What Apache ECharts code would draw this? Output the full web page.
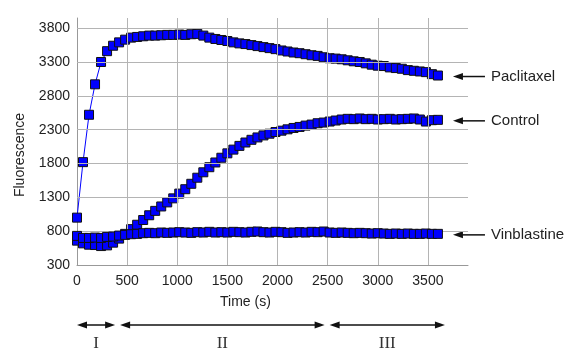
<!DOCTYPE html>
<html>
<head>
<meta charset="utf-8">
<script src="https://cdn.jsdelivr.net/npm/echarts@6/dist/echarts.min.js"></script>
<style>
  html, body { margin: 0; padding: 0; background: #fff; }
  #main { width: 582px; height: 360px; }
</style>
</head>
<body>
<div id="main"></div>
<script>
// time points (s)
const time = [0, 60, 120, 180, 240, 300, 360, 420, 480, 540, 600, 660, 720, 780, 840, 900, 960, 1020, 1080, 1140,
  1200, 1260, 1320, 1380, 1440, 1500, 1560, 1620, 1680, 1740, 1800, 1860, 1920, 1980, 2040, 2100, 2160, 2220, 2280, 2340,
  2400, 2460, 2520, 2580, 2640, 2700, 2760, 2820, 2880, 2940, 3000, 3060, 3120, 3180, 3240, 3300, 3360, 3420, 3480, 3540, 3600];

const paclitaxel = [1000, 1820, 2520, 2970, 3300, 3460, 3540, 3590, 3630, 3660, 3670, 3680, 3690, 3690, 3695, 3700, 3700, 3705, 3700, 3710,
  3715, 3690, 3660, 3640, 3625, 3610, 3590, 3575, 3565, 3550, 3535, 3520, 3505, 3490, 3470, 3455, 3440, 3430, 3415, 3400,
  3390, 3370, 3355, 3350, 3340, 3325, 3310, 3300, 3280, 3260, 3245, 3240, 3220, 3210, 3200, 3180, 3170, 3160, 3150, 3120, 3100];

const control = [660, 620, 600, 595, 580, 590, 630, 690, 760, 830, 895, 965, 1035, 1100, 1165, 1225, 1285, 1355, 1420, 1500,
  1590, 1670, 1745, 1815, 1885, 1950, 2005, 2060, 2110, 2150, 2185, 2215, 2240, 2265, 2285, 2305, 2325, 2340, 2360, 2375,
  2395, 2405, 2420, 2435, 2450, 2460, 2455, 2465, 2455, 2460, 2450, 2455, 2460, 2450, 2455, 2460, 2465, 2450, 2420, 2440, 2445];

const vinblastine = [730, 700, 700, 705, 700, 715, 720, 735, 745, 755, 760, 770, 775, 770, 780, 775, 780, 785, 780, 775,
  785, 780, 790, 780, 785, 780, 790, 785, 780, 790, 795, 785, 780, 790, 785, 775, 780, 785, 780, 790,
  785, 795, 780, 775, 780, 775, 770, 775, 770, 765, 770, 765, 760, 765, 760, 765, 760, 760, 765, 760, 760];

const xTicks = [0, 500, 1000, 1500, 2000, 2500, 3000, 3500];
const yTicks = [300, 800, 1300, 1800, 2300, 2800, 3300, 3800];

// phases shown under the axis
const phases = [
  { name: 'I', from: 0, to: 380 },
  { name: 'II', from: 430, to: 2470 },
  { name: 'III', from: 2520, to: 3670 }
];

const seriesList = [
  { name: 'Paclitaxel', values: paclitaxel },
  { name: 'Control', values: control },
  { name: 'Vinblastine', values: vinblastine }
];

const chart = echarts.init(document.getElementById('main'));

const dataSeries = seriesList.map(function (s, k) {
  return {
    name: s.name,
    type: 'line',
    z: 3 + k,
    data: time.map(function (t, i) { return [t, s.values[i]]; }),
    symbol: 'rect',
    symbolSize: 9,
    itemStyle: { color: '#0000ff', borderColor: '#111', borderWidth: 1 },
    lineStyle: { color: '#0000ff', width: 1 }
  };
});

const gridLineStyle = { color: '#b4b4b4', width: 1, type: 'solid' };
const plain = function (v) { return String(v); };
const sans = '"Liberation Sans", Arial, sans-serif';

const option = {
  animation: false,
  grid: { left: 77, top: 18, right: 114, bottom: 95 },
  xAxis: {
    type: 'value',
    min: 0,
    max: 3900,
    axisLine: { show: true, lineStyle: { color: '#999', width: 1 } },
    axisTick: { show: false },
    splitLine: { show: false },
    axisLabel: {
      customValues: xTicks,
      formatter: plain,
      color: '#222',
      fontFamily: sans,
      fontSize: 14,
      margin: 9
    }
  },
  yAxis: {
    type: 'value',
    min: 300,
    max: 3950,
    axisLine: { show: true, lineStyle: { color: '#999', width: 1 } },
    axisTick: { show: false },
    splitLine: { show: false },
    axisLabel: {
      customValues: yTicks,
      formatter: plain,
      color: '#222',
      fontFamily: sans,
      fontSize: 14,
      margin: 7
    }
  },
  series: [{
    name: 'grid',
    type: 'line',
    z: 1,
    data: [],
    silent: true,
    markLine: {
      silent: true,
      symbol: 'none',
      label: { show: false },
      lineStyle: gridLineStyle,
      data: xTicks.slice(1).map(function (v) { return { xAxis: v }; })
        .concat(yTicks.slice(1).map(function (v) { return { yAxis: v }; }))
    }
  }].concat(dataSeries)
};

chart.setOption(option);

// annotations placed through the chart's own scales
function px(x, y) {
  return chart.convertToPixel({ gridIndex: 0 }, [x, y]);
}

function head(tipX, y, dir) {
  // dir = -1 points left, 1 points right
  return {
    type: 'polygon',
    shape: { points: [[tipX, y], [tipX - dir * 10, y - 3.5], [tipX - dir * 10, y + 3.5]] },
    style: { fill: '#111' }
  };
}

const graphics = [];
const bottomY = px(0, 300)[1];
const arrowY = bottomY + 60;

phases.forEach(function (p) {
  const x1 = px(p.from, 300)[0];
  const x2 = px(p.to, 300)[0];
  graphics.push({
    type: 'line',
    shape: { x1: x1 + 4, y1: arrowY, x2: x2 - 4, y2: arrowY },
    style: { stroke: '#111', lineWidth: 1.5 }
  });
  graphics.push(head(x1, arrowY, -1));
  graphics.push(head(x2, arrowY, 1));
  graphics.push({
    type: 'text',
    x: (x1 + x2) / 2,
    y: arrowY + 19,
    style: {
      text: p.name,
      fill: '#333',
      font: '17px "Liberation Serif", "DejaVu Serif", serif',
      align: 'center',
      verticalAlign: 'middle'
    }
  });
});

// axis titles, both sit off centre in the reference
const titlePos = px(1680, 300);
graphics.push({
  type: 'text',
  x: titlePos[0],
  y: titlePos[1] + 37,
  style: {
    text: 'Time (s)',
    fill: '#222',
    font: '14px ' + sans,
    align: 'center',
    verticalAlign: 'middle'
  }
});
const yTitlePos = px(0, 1925);
graphics.push({
  type: 'text',
  x: yTitlePos[0] - 57,
  y: yTitlePos[1],
  rotation: Math.PI / 2,
  style: {
    text: 'Fluorescence',
    fill: '#222',
    font: '14px ' + sans,
    align: 'center',
    verticalAlign: 'middle'
  }
});

// series labels with arrows on the right
seriesList.forEach(function (s) {
  const last = s.values[s.values.length - 1];
  const p = px(3750, last);
  const y = p[1] + 1;
  graphics.push({
    type: 'line',
    shape: { x1: p[0] + 4, y1: y, x2: p[0] + 32, y2: y },
    style: { stroke: '#111', lineWidth: 1.5 }
  });
  graphics.push(head(p[0], y, -1));
  graphics.push({
    type: 'text',
    x: p[0] + 38,
    y: y,
    style: {
      text: s.name,
      fill: '#222',
      font: '15px ' + sans,
      align: 'left',
      verticalAlign: 'middle'
    }
  });
});

chart.setOption({ graphic: graphics });

window.addEventListener('resize', function () {
  chart.resize();
});
</script>
</body>
</html>
